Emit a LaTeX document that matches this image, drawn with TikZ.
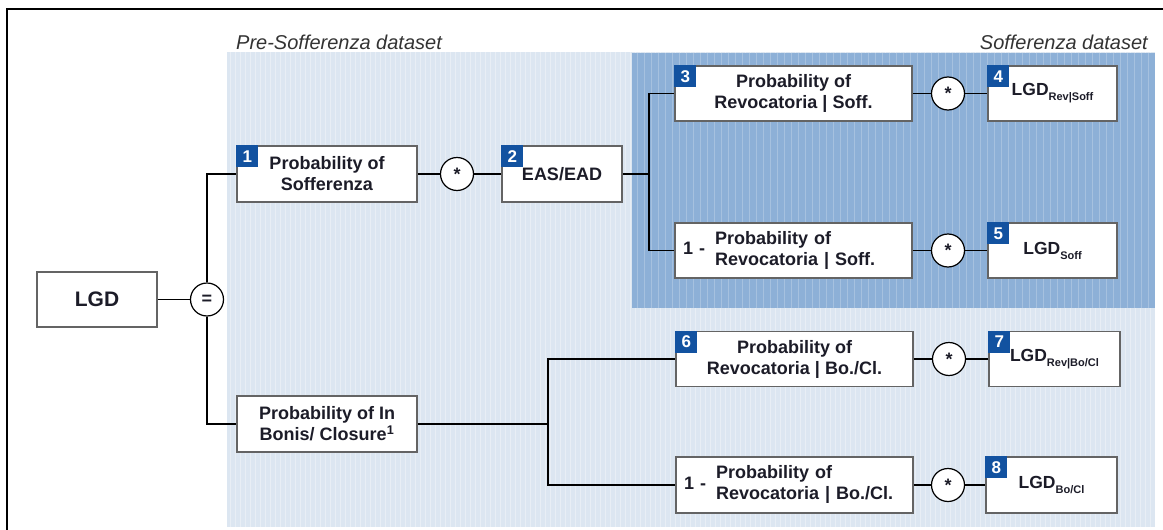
\documentclass[tikz,border=0pt]{standalone}
\usepackage{fontspec}
\setmainfont{Liberation Sans}
\definecolor{bglight}{RGB}{220,230,241}
\definecolor{bgdark}{RGB}{141,176,215}
\definecolor{badgeblue}{RGB}{18,82,160}
\definecolor{boxgray}{RGB}{100,100,100}
\definecolor{txt}{RGB}{28,28,40}
\newcommand{\lgdsub}[1]{LGD\raisebox{-5pt}{\fontsize{11}{11}\selectfont #1}}
\newcommand{\onelessrev}[1]{1 -\hspace{10pt}\begin{tabular}{@{}l@{}}Probability of\\Revocatoria | #1\end{tabular}}

\begin{document}
\begin{tikzpicture}[x=1pt,y=-1pt,
  box/.style={draw=boxgray,line width=1.6,fill=white,inner sep=0,minimum height=55,
    align=center,text=txt,font=\bfseries\fontsize{18}{21}\selectfont},
  lgdbox/.style={box,font=\bfseries\fontsize{17.5}{21}\selectfont},
  onebox/.style={box,text width=221,align=left},
  op/.style={circle,draw=black,line width=1.2,fill=white,minimum size=33,inner sep=0,
    text=txt,font=\bfseries\fontsize{18}{18}\selectfont},
  badge/.style={fill=badgeblue,text=white,minimum size=22,inner sep=0,anchor=north west,
    font=\bfseries\fontsize{17}{17}\selectfont},
  lbl/.style={inner sep=0,text=black!80,font=\itshape\fontsize{20}{20}\selectfont},
  link/.style={line width=1.5,black}]

\useasboundingbox (0,0) rectangle (1163,530);

\fill[bglight] (227,52) rectangle (1155,527);
\draw[white,opacity=0.35,line width=0.7,step=5] (227,52) grid (1155,527);
\fill[bgdark] (632,53) rectangle (1155,308);
\draw[white,opacity=0.22,line width=0.9,step=7] (632,53) grid (1155,308);
\draw[line width=2.5] (7,530) -- (7,9) -- (1163,9);

\node[lbl,anchor=base west] (prelbl) at (236,49) {Pre-Sofferenza dataset};
\node[lbl,anchor=base east] (sofflbl) at (1148,49) {Sofferenza dataset};

\node[box,minimum width=120,font=\bfseries\fontsize{21}{21}\selectfont] (lgd) at (97,299.5) {LGD};
\node[op] (eq) at (207,299.5) {=};

\node[box,minimum width=180,minimum height=56] (psoff) at (327,174) {Probability of\\Sofferenza};
\node[op] (m1) at (457,174) {*};
\node[box,minimum width=120,minimum height=56] (ead) at (562,174) {EAS/EAD};
\coordinate (f1) at (649,174);

\node[box,minimum width=237] (prev) at (793.5,93.5) {Probability of\\Revocatoria | Soff.};
\node[op] (m3) at (948,93.5) {*};
\node[lgdbox,minimum width=129] (lrev) at (1052.5,93.5) {\lgdsub{Rev|Soff}};
\node[onebox,minimum width=237] (nrev) at (793.5,250.5) {\onelessrev{Soff.}};
\node[op] (m5) at (948,250.5) {*};
\node[lgdbox,minimum width=129] (lsoff) at (1052.5,250.5) {\lgdsub{Soff}};

\node[box,minimum width=180,minimum height=56] (bonis) at (327,424) {Probability of In\\Bonis/ Closure\textsuperscript{1}};
\coordinate (f2) at (548,424);

\node[box,minimum width=237] (pbo) at (794.5,359) {Probability of\\Revocatoria | Bo./Cl.};
\node[op] (m6) at (949,359) {*};
\node[lgdbox,minimum width=131] (lbo) at (1054.5,359) {\lgdsub{Rev|Bo/Cl}};
\node[onebox,minimum width=237,minimum height=56] (nbo) at (794.5,485) {\onelessrev{Bo./Cl.}};
\node[op] (m8) at (948,485) {*};
\node[lgdbox,minimum width=131,minimum height=56] (lboc) at (1051.5,485) {\lgdsub{Bo/Cl}};

\node[badge] (t1) at (psoff.north west) {1};
\node[badge] (t2) at (ead.north west) {2};
\node[badge] (t3) at (prev.north west) {3};
\node[badge] (t4) at (lrev.north west) {4};
\node[badge] (t5) at (lsoff.north west) {5};
\node[badge] (t6) at (pbo.north west) {6};
\node[badge] (t7) at (lbo.north west) {7};
\node[badge] (t8) at (lboc.north west) {8};

\draw[link] (lgd) -- (eq);
\draw[link] (eq) |- (psoff);
\draw[link] (eq) |- (bonis);
\draw[link] (psoff) -- (m1) -- (ead);
\draw[link] (ead) -- (f1);
\draw[link] (f1) |- (prev);
\draw[link] (f1) |- (nrev);
\draw[link] (prev) -- (m3) -- (lrev);
\draw[link] (nrev) -- (m5) -- (lsoff);
\draw[link] (bonis) -- (f2);
\draw[link] (f2) |- (pbo);
\draw[link] (f2) |- (nbo);
\draw[link] (pbo) -- (m6) -- (lbo);
\draw[link] (nbo) -- (m8) -- (lboc);

\end{tikzpicture}
\end{document}
